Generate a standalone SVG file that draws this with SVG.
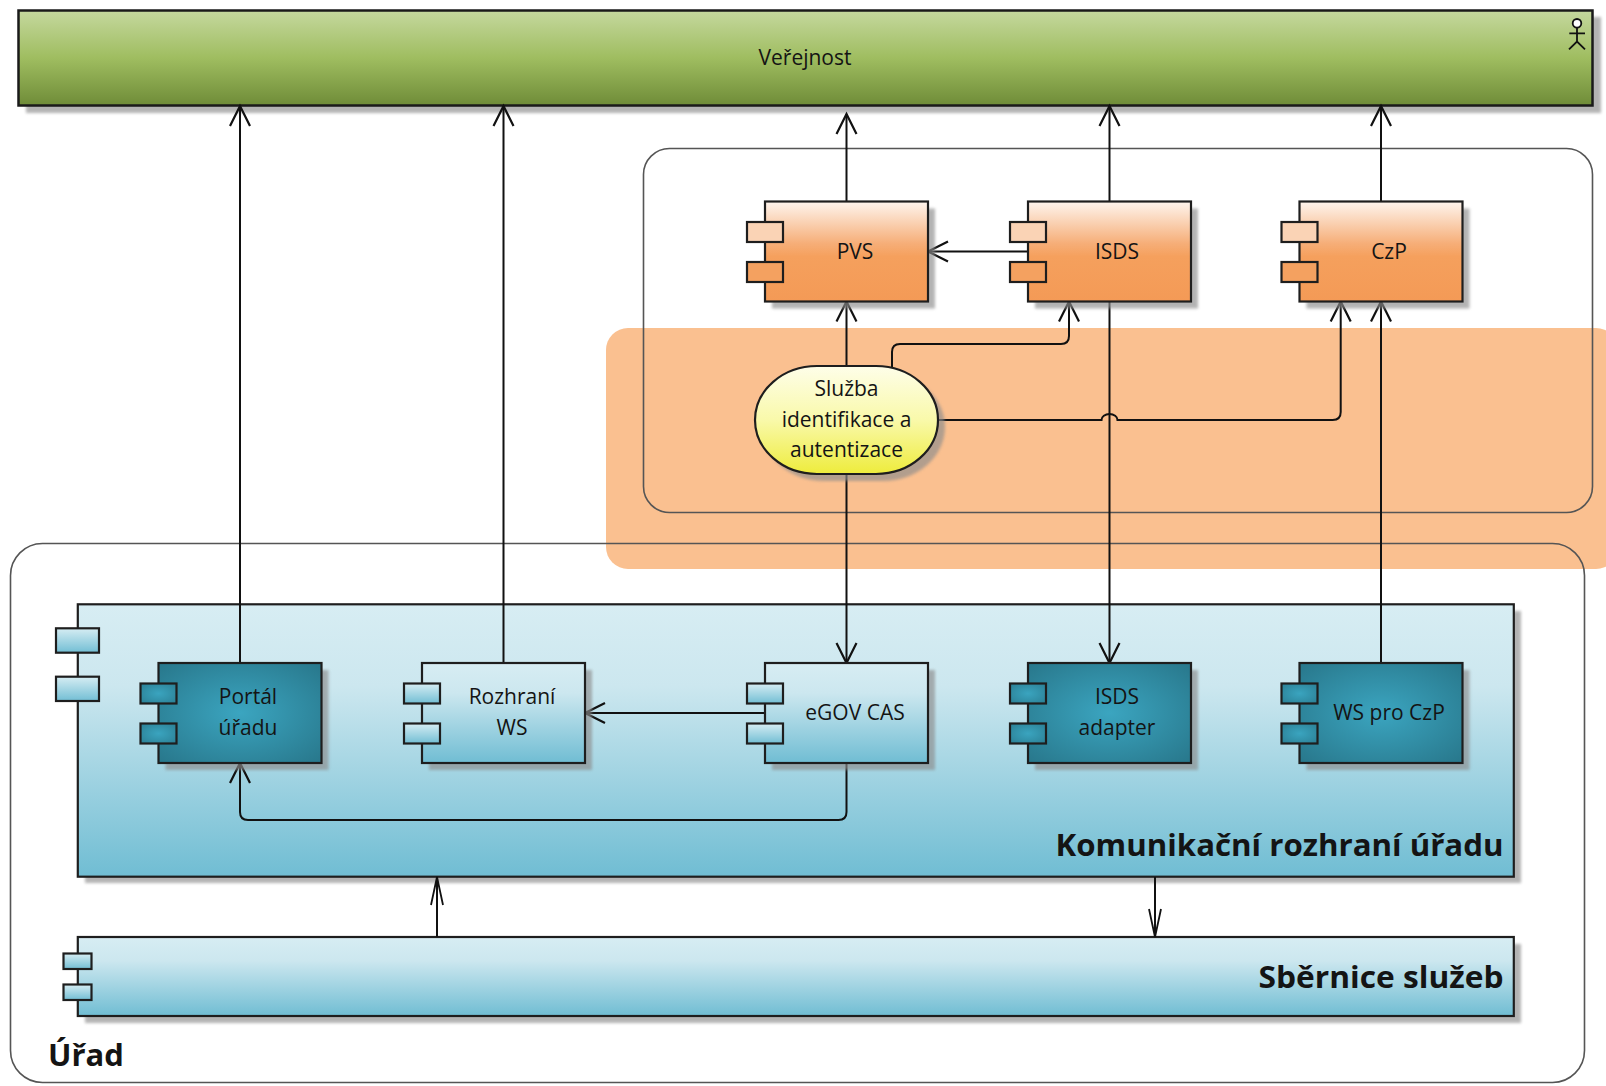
<svg xmlns="http://www.w3.org/2000/svg" width="1606" height="1086" viewBox="0 0 1606 1086">
<defs>
<style>
text{font-family:"Open Sans","Liberation Sans",sans-serif;fill:#141414}
.lbl{font-size:21px;text-anchor:middle}
.big{font-size:30px;font-weight:bold}
.box{stroke:#1e1e1e;stroke-width:2.2}
.cont{fill:none;stroke:#555;stroke-width:1.6}
.sh{fill:#8c8c8c;opacity:0.65;filter:url(#blur)}
.ln{fill:none;stroke:#111;stroke-width:2}
.arr{marker-end:url(#ah)}
.arr2{marker-end:url(#ah2)}
</style>
<filter id="blur" x="-5%" y="-5%" width="110%" height="110%"><feGaussianBlur stdDeviation="1.6"/></filter>
<linearGradient id="gGreen" x1="0" y1="0" x2="0" y2="1"><stop offset="0" stop-color="#c5d89e"/><stop offset="0.5" stop-color="#9fbd60"/><stop offset="1" stop-color="#6f8c38"/></linearGradient>
<linearGradient id="gOrange" x1="0" y1="0" x2="0" y2="1"><stop offset="0" stop-color="#fef5ee"/><stop offset="0.42" stop-color="#f6ae78"/><stop offset="0.55" stop-color="#f5a05d"/><stop offset="1" stop-color="#f49a56"/></linearGradient>
<linearGradient id="gYellow" x1="0" y1="0" x2="0" y2="1"><stop offset="0" stop-color="#fefee9"/><stop offset="0.5" stop-color="#f9f9aa"/><stop offset="1" stop-color="#eeec3c"/></linearGradient>
<linearGradient id="gLight" x1="0" y1="0" x2="0" y2="1"><stop offset="0" stop-color="#d7edf3"/><stop offset="0.3" stop-color="#cce7ef"/><stop offset="1" stop-color="#70bdd3"/></linearGradient>
<linearGradient id="gPort" x1="0" y1="0" x2="0" y2="1"><stop offset="0" stop-color="#d6edf3"/><stop offset="1" stop-color="#72bed4"/></linearGradient>
<radialGradient id="gDark" cx="0.5" cy="0.5" r="0.7"><stop offset="0" stop-color="#3ba5c0"/><stop offset="1" stop-color="#28778b"/></radialGradient>
<radialGradient id="gDarkPort" cx="0.5" cy="0.5" r="0.7"><stop offset="0" stop-color="#3aa4bf"/><stop offset="1" stop-color="#2b7f94"/></radialGradient>
<marker id="ah" markerUnits="userSpaceOnUse" markerWidth="24" markerHeight="24" viewBox="-22 -12 24 24" refX="0" refY="0" orient="auto" overflow="visible">
<path d="M -20 -10 L 0 0 L -20 10" fill="none" stroke="#111" stroke-width="2.2"/>
</marker>
<marker id="ah2" markerUnits="userSpaceOnUse" markerWidth="32" markerHeight="16" viewBox="-30 -8 32 16" refX="0" refY="0" orient="auto" overflow="visible">
<path d="M -28 -6 L 0 0 L -28 6" fill="none" stroke="#111" stroke-width="1.8"/>
</marker>
</defs>

<rect width="1606" height="1086" fill="#ffffff"/>

<!-- highlight region -->
<rect id="highlight" x="606" y="328" width="1012" height="241" rx="22" fill="#fac090"/>

<!-- containers -->
<g id="urad">
<rect class="cont" x="10.5" y="543.5" width="1574" height="539" rx="32"/>
<text class="big" x="48" y="1066" style="font-size:31px">Úřad</text>
</g>
<g id="external">
<rect class="cont" x="643.5" y="148.5" width="949" height="364" rx="26"/>
</g>

<!-- Veřejnost -->
<g id="verejnost">
<rect class="sh" x="26" y="17" width="1575" height="96"/>
<rect x="18.5" y="10.5" width="1574" height="95" fill="url(#gGreen)" stroke="#1a1a1a" stroke-width="2.5"/>
<text class="lbl" x="805" y="65">Veřejnost</text>
<g fill="none" stroke="#111" stroke-width="1.8">
<circle cx="1577" cy="23.3" r="4.3" fill="#fff"/>
<path d="M1577 27.6 V41.5 M1569.3 33.3 H1585 M1569 49.3 L1577 41.5 L1585 49.3"/>
</g>
</g>

<!-- Komunikační rozhraní úřadu -->
<g id="komunikacni">
<rect class="sh" x="85" y="611" width="1436" height="272"/>
<rect class="box" x="77.8" y="604.3" width="1436" height="272.4" fill="url(#gLight)"/>
<rect class="box" x="56" y="628.3" width="43" height="24.4" fill="url(#gPort)"/>
<rect class="box" x="56" y="676.7" width="43" height="24.3" fill="url(#gPort)"/>
<text class="big" x="1503.5" y="856" text-anchor="end" textLength="448" lengthAdjust="spacingAndGlyphs">Komunikační rozhraní úřadu</text>
</g>

<!-- Sběrnice služeb -->
<g id="sbernice">
<rect class="sh" x="85" y="944" width="1436" height="79"/>
<rect class="box" x="77.8" y="937" width="1436" height="79" fill="url(#gLight)"/>
<rect class="box" x="63.5" y="953.5" width="28" height="15.5" fill="url(#gPort)"/>
<rect class="box" x="63.5" y="984.5" width="28" height="15.5" fill="url(#gPort)"/>
<text class="big" x="1503.5" y="988" text-anchor="end" textLength="245" lengthAdjust="spacingAndGlyphs">Sběrnice služeb</text>
</g>

<!-- connectors -->
<g id="connectors">
<path class="ln arr" d="M240 663 V106"/>
<path class="ln arr" d="M503.5 663 V106"/>
<path class="ln arr" d="M846.5 201.5 V114"/>
<path class="ln arr" d="M1109.5 201.5 V106"/>
<path class="ln arr" d="M1381 201.5 V106"/>
<path class="ln arr" d="M1028 251.5 H928"/>
<path class="ln arr" d="M846.5 366 V301.5"/>
<path class="ln arr" d="M892 367 V352 Q892 344 900 344 H1061 Q1069 344 1069 336 V301.5"/>
<path class="ln arr" d="M938 420 H1101.5 A8 6 0 0 1 1117.5 420 H1332.7 Q1340.7 420 1340.7 412 V301.5"/>
<path class="ln arr" d="M1109.5 301.5 V663"/>
<path class="ln arr" d="M846.5 474 V663"/>
<path class="ln arr" d="M1381 663 V301.5"/>
<path class="ln arr" d="M765 713 H585"/>
<path class="ln arr" d="M846.5 763 V812 Q846.5 820 838.5 820 H248 Q240 820 240 812 V763"/>
<path class="ln arr2" d="M437 937 V877"/>
<path class="ln arr2" d="M1155 877 V937"/>
</g>

<!-- external components -->
<g id="pvs">
<rect class="sh" x="772" y="208.5" width="163" height="100"/>
<rect class="box" x="765" y="201.5" width="163" height="100" fill="url(#gOrange)"/>
<rect class="box" x="747" y="222" width="36" height="20" fill="#fad3b5"/>
<rect class="box" x="747" y="262" width="36" height="20" fill="#f4a160"/>
<text class="lbl" x="855" y="259">PVS</text>
</g>
<g id="isds">
<rect class="sh" x="1035" y="208.5" width="163" height="100"/>
<rect class="box" x="1028" y="201.5" width="163" height="100" fill="url(#gOrange)"/>
<rect class="box" x="1010" y="222" width="36" height="20" fill="#fad3b5"/>
<rect class="box" x="1010" y="262" width="36" height="20" fill="#f4a160"/>
<text class="lbl" x="1117" y="259">ISDS</text>
</g>
<g id="czp">
<rect class="sh" x="1306.5" y="208.5" width="163" height="100"/>
<rect class="box" x="1299.5" y="201.5" width="163" height="100" fill="url(#gOrange)"/>
<rect class="box" x="1281.5" y="222" width="36" height="20" fill="#fad3b5"/>
<rect class="box" x="1281.5" y="262" width="36" height="20" fill="#f4a160"/>
<text class="lbl" x="1389" y="259">CzP</text>
</g>
<g id="sluzba">
<rect class="sh" x="762" y="373" width="183" height="108" rx="62" ry="54"/>
<rect class="box" x="755" y="366" width="183" height="108" rx="62" ry="54" fill="url(#gYellow)"/>
<text class="lbl" x="846.5" y="396">Služba</text>
<text class="lbl" x="846.5" y="427">identifikace a</text>
<text class="lbl" x="846.5" y="457">autentizace</text>
</g>

<!-- office components -->
<g id="portal">
<rect class="sh" x="165.5" y="670" width="163" height="100"/>
<rect class="box" x="158.5" y="663" width="163" height="100" fill="url(#gDark)"/>
<rect class="box" x="140.5" y="683.5" width="36" height="20" fill="url(#gDarkPort)"/>
<rect class="box" x="140.5" y="723.5" width="36" height="20" fill="url(#gDarkPort)"/>
<text class="lbl" x="248" y="704">Portál</text>
<text class="lbl" x="248" y="735">úřadu</text>
</g>
<g id="rozhrani">
<rect class="sh" x="429" y="670" width="163" height="100"/>
<rect class="box" x="422" y="663" width="163" height="100" fill="url(#gLight)"/>
<rect class="box" x="404" y="683.5" width="36" height="20" fill="url(#gPort)"/>
<rect class="box" x="404" y="723.5" width="36" height="20" fill="url(#gPort)"/>
<text class="lbl" x="512" y="704">Rozhraní</text>
<text class="lbl" x="512" y="735">WS</text>
</g>
<g id="egov">
<rect class="sh" x="772" y="670" width="163" height="100"/>
<rect class="box" x="765" y="663" width="163" height="100" fill="url(#gLight)"/>
<rect class="box" x="747" y="683.5" width="36" height="20" fill="url(#gPort)"/>
<rect class="box" x="747" y="723.5" width="36" height="20" fill="url(#gPort)"/>
<text class="lbl" x="855" y="720">eGOV CAS</text>
</g>
<g id="isds-adapter">
<rect class="sh" x="1035" y="670" width="163" height="100"/>
<rect class="box" x="1028" y="663" width="163" height="100" fill="url(#gDark)"/>
<rect class="box" x="1010" y="683.5" width="36" height="20" fill="url(#gDarkPort)"/>
<rect class="box" x="1010" y="723.5" width="36" height="20" fill="url(#gDarkPort)"/>
<text class="lbl" x="1117" y="704">ISDS</text>
<text class="lbl" x="1117" y="735">adapter</text>
</g>
<g id="ws-czp">
<rect class="sh" x="1306.5" y="670" width="163" height="100"/>
<rect class="box" x="1299.5" y="663" width="163" height="100" fill="url(#gDark)"/>
<rect class="box" x="1281.5" y="683.5" width="36" height="20" fill="url(#gDarkPort)"/>
<rect class="box" x="1281.5" y="723.5" width="36" height="20" fill="url(#gDarkPort)"/>
<text class="lbl" x="1389" y="720">WS pro CzP</text>
</g>
</svg>
